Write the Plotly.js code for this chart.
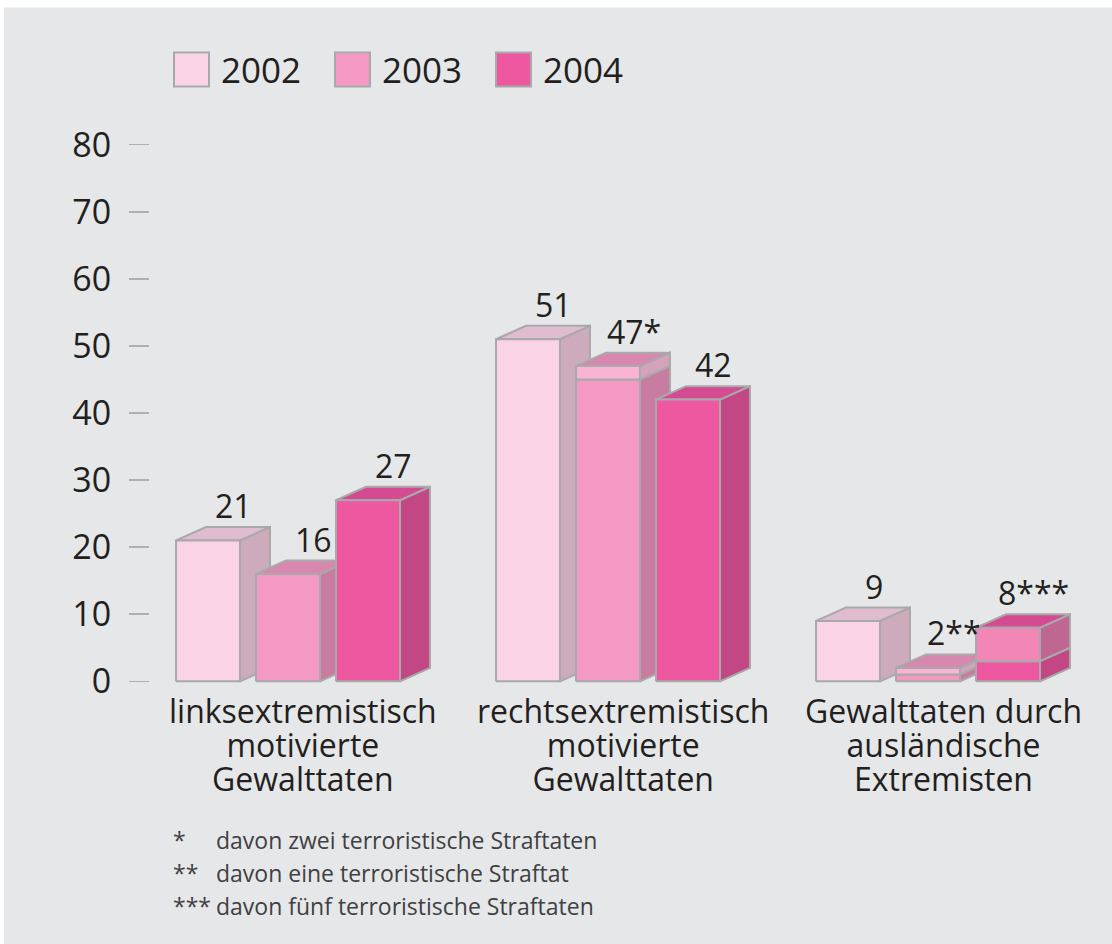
<!DOCTYPE html>
<html>
<head>
<meta charset="utf-8">
<script src="https://cdn.plot.ly/plotly-3.0.1.min.js"></script>
<style>
  html, body { margin: 0; padding: 0; background: #ffffff; }
  #chart { width: 1112px; height: 944px; }
</style>
</head>
<body>
<div id="chart"></div>
<script>
// ---------------- data ----------------
const categories = [
  "linksextremistisch<br>motivierte<br>Gewalttaten",
  "rechtsextremistisch<br>motivierte<br>Gewalttaten",
  "Gewalttaten durch<br>ausländische<br>Extremisten"
];
const years = ["2002", "2003", "2004"];
const values2002 = [21, 51, 9];
const values2003 = [16, 47, 2];
const values2004 = [27, 42, 8];
// terroristische Straftaten (upper, lighter segment of the bar)
const terror2002 = [0, 0, 0];
const terror2003 = [0, 2, 1];
const terror2004 = [0, 0, 5];
const notes2002 = ["", "", ""];
const notes2003 = ["", "*", "**"];
const notes2004 = ["", "", "***"];
const yTicks = [0, 10, 20, 30, 40, 50, 60, 70, 80];
const footnoteMarks = ["*", "**", "***"];
const footnoteTexts = [
  "davon zwei terroristische Straftaten",
  "davon eine terroristische Straftat",
  "davon fünf terroristische Straftaten"
];

// ---------------- styling ----------------
const W = 1112, H = 944;
const EDGE = "#a8a9ab";
const TXT = "#231f20";
const FONT = "Open Sans";
const frontCol  = ["#fad4e6", "#f49ac2", "#ee58a0"];
const sideCol   = ["#cdabbd", "#c87ca0", "#c34785"];
const topCol    = ["#dfbccf", "#d887ae", "#d54b91"];
const tFrontCol = ["#fad4e6", "#f9b4d4", "#f287b5"];
const tSideCol  = ["#cdabbd", "#d3a3bb", "#bf6691"];

const series = [values2002, values2003, values2004];
const terror = [terror2002, terror2003, terror2004];
const notes  = [notes2002, notes2003, notes2004];

// geometry (axis units)
const HALF = 0.4;   // half bar width
const DX = 0.375;   // depth offset in x
const DY = 2;       // depth offset in y
const GROUP = 4;    // slots per group

// plot area in pixels
const M = { l: 150, r: 12, t: 137.5, b: 256.3 };
const plotW = W - M.l - M.r, plotH = H - M.t - M.b;
const X_RANGE = [(M.l - 208) / 80, (W - M.r - 208) / 80];
const Y_RANGE = [-1, 81];
const px2paperX = px => (px - M.l) / plotW;
const py2paperY = py => (H - M.b - py) / plotH;

const traces = [];
function poly(xs, ys, fill) {
  traces.push({
    type: "scatter", mode: "lines",
    x: xs.concat([xs[0]]), y: ys.concat([ys[0]]),
    fill: "toself", fillcolor: fill,
    line: { color: EDGE, width: 2 },
    hoverinfo: "skip", showlegend: false
  });
}

const annotations = [];
const catAnnIdx = [];
const CAT_SIZE = 32, CAT_LINE = 34;

categories.forEach((cat, g) => {
  years.forEach((yr, i) => {
    const c = g * GROUP + i;
    const total = series[i][g];
    const t = terror[i][g];
    const segs = [];
    if (total - t > 0) segs.push([0, total - t, frontCol[i], sideCol[i]]);
    if (t > 0) segs.push([total - t, total, tFrontCol[i], tSideCol[i]]);
    const xl = c - HALF, xr = c + HALF;
    // side faces
    segs.forEach(s => poly([xr, xr + DX, xr + DX, xr], [s[0], s[0] + DY, s[1] + DY, s[1]], s[3]));
    // top face
    poly([xl, xl + DX, xr + DX, xr], [total, total + DY, total + DY, total], topCol[i]);
    // front faces
    segs.forEach(s => poly([xl, xr, xr, xl], [s[0], s[0], s[1], s[1]], s[2]));
    // value label
    annotations.push({
      x: c + 0.32, y: total + DY, xref: "x", yref: "y",
      text: String(total) + notes[i][g], showarrow: false,
      xanchor: "center", yanchor: "bottom", yshift: -2,
      font: { family: FONT, size: 32, color: TXT }
    });
  });
  // category label (one text, lines tightened after drawing)
  catAnnIdx.push(annotations.length);
  annotations.push({
    x: g * GROUP + 1 + DX / 2, y: py2paperY(686.5),
    xref: "x", yref: "paper", text: cat, showarrow: false,
    xanchor: "center", yanchor: "top", align: "center",
    font: { family: FONT, size: CAT_SIZE, color: TXT }
  });
});

// legend (custom, large squares)
const shapes = [{
  type: "rect", xref: "paper", yref: "paper", layer: "below",
  x0: px2paperX(4), x1: px2paperX(W + 2), y0: py2paperY(H + 2), y1: py2paperY(7),
  fillcolor: "#e6e7e8", line: { width: 0 }
}];
years.forEach((yr, i) => {
  const sx = 174 + 161 * i;
  shapes.push({
    type: "rect", xref: "paper", yref: "paper",
    x0: px2paperX(sx), x1: px2paperX(sx + 35), y0: py2paperY(86), y1: py2paperY(52),
    fillcolor: frontCol[i], line: { color: EDGE, width: 2 }
  });
  annotations.push({
    x: px2paperX(sx + 45), y: py2paperY(82.7 - 0.388 * 35), xref: "paper", yref: "paper",
    text: yr, showarrow: false, xanchor: "left", yanchor: "middle",
    font: { family: FONT, size: 35, color: TXT }
  });
});

// footnotes
const FN_SIZE = 23;
footnoteTexts.forEach((txt, k) => {
  const baseline = 849 + 33 * k;
  annotations.push({
    x: px2paperX(171), y: py2paperY(baseline - 0.388 * FN_SIZE), xref: "paper", yref: "paper",
    text: footnoteMarks[k], showarrow: false, xanchor: "left", yanchor: "middle",
    font: { family: FONT, size: FN_SIZE, color: "#404042" }
  });
  annotations.push({
    x: px2paperX(214), y: py2paperY(baseline - 0.388 * FN_SIZE), xref: "paper", yref: "paper",
    text: txt, showarrow: false, xanchor: "left", yanchor: "middle",
    font: { family: FONT, size: FN_SIZE, color: "#404042" }
  });
});

const layout = {
  width: W, height: H,
  margin: M,
  paper_bgcolor: "#ffffff",
  plot_bgcolor: "rgba(0,0,0,0)",
  showlegend: false,
  xaxis: { range: X_RANGE, visible: false, fixedrange: true },
  yaxis: {
    range: Y_RANGE, tickvals: yTicks, ticktext: yTicks.map(String),
    ticks: "outside", ticklen: 20, tickwidth: 1.5, tickcolor: "#aeafb1",
    ticklabelstandoff: 11,
    showline: false, showgrid: false, zeroline: false, fixedrange: true,
    tickfont: { family: FONT, size: 34, color: TXT }
  },
  shapes: shapes,
  annotations: annotations
};

Plotly.newPlot("chart", traces, layout, { displayModeBar: false, staticPlot: true }).then(gd => {
  // tighten line spacing of the multi-line category labels to match the reference
  catAnnIdx.forEach(idx => {
    const g = gd.querySelector('g.annotation[data-index="' + idx + '"]');
    if (!g) return;
    g.querySelectorAll("tspan.line").forEach((ts, k) => {
      ts.setAttribute("dy", (k * CAT_LINE / CAT_SIZE) + "em");
    });
  });
});
</script>
</body>
</html>
